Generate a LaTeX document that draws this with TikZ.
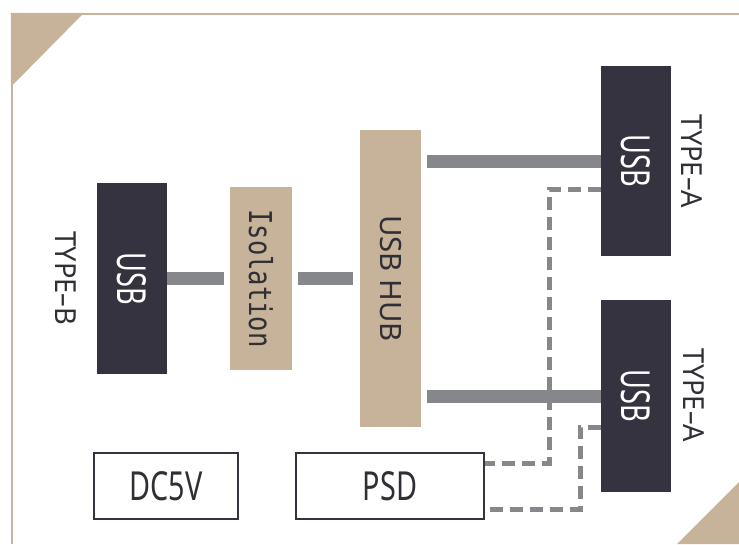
\documentclass[tikz,border=0pt]{standalone}
\usepackage{fontspec}
\setmainfont{Noto Sans}
\newfontfamily\monofam{DejaVu Sans Mono}
\usepackage{graphicx}
\definecolor{darkc}{HTML}{35333F}
\definecolor{tanc}{HTML}{C6B39A}
\definecolor{barc}{HTML}{86878B}
\definecolor{txtc}{HTML}{2F2F35}
\newcommand\vtext[2]{\rotatebox{-90}{\scalebox{#1}[1]{#2}}}
\begin{document}
\begin{tikzpicture}[x=1pt,y=-1pt,
  darkbox/.style={fill=darkc,draw=none,inner sep=0pt,minimum width=70pt,text=white,font=\fontsize{40}{40}\selectfont},
  tanbox/.style={fill=tanc,draw=none,inner sep=0pt,text=txtc},
  wbox/.style={fill=white,draw=darkc,line width=2pt,inner sep=0pt,minimum height=66pt,text=txtc,font=\fontsize{40}{40}\selectfont},
  sidetxt/.style={inner sep=0pt,text=txtc,font=\fontsize{29}{29}\selectfont},
  bar/.style={draw=barc,line width=13pt},
  dashline/.style={draw=barc,line width=5pt,dash pattern=on 13pt off 7pt}]
\useasboundingbox (0,0) rectangle (739,544);
% frame
\draw[tanc,line width=2.5pt] (12,544) -- (12,14) -- (739,14);
\fill[tanc] (10.75,12.75) -- (84,12.75) -- (10.75,87) -- cycle;
\fill[tanc] (677,544) -- (739,482) -- (739,544) -- cycle;
% boxes
\node[darkbox,minimum height=191pt] (usbB) at (132,278.5) {\vtext{0.68}{USB}};
\node[tanbox,minimum width=62pt,minimum height=183pt,font=\monofam\fontsize{31.5}{31.5}\selectfont] (iso) at (261,278.5) {\vtext{0.81}{Isolation}};
\node[tanbox,minimum width=61pt,minimum height=297pt,font=\fontsize{29.4}{29.4}\selectfont] (hub) at (390.5,278.5) {\vtext{1.0}{USB HUB}};
\node[darkbox,minimum height=190pt] (usbA1) at (636,161) {\vtext{0.68}{USB}};
\node[darkbox,minimum height=192pt] (usbA2) at (636,396) {\vtext{0.68}{USB}};
\node[wbox,minimum width=144pt] (dc) at (166,486) {\scalebox{0.72}[1]{DC5V}};
\node[wbox,minimum width=188pt] (psd) at (390,486) {\scalebox{0.72}[1]{PSD}};
% side labels
\node[sidetxt] (tb) at (66,278.5) {\vtext{0.94}{TYPE\textendash B}};
\node[sidetxt] (ta1) at (692,161.5) {\vtext{0.94}{TYPE\textendash A}};
\node[sidetxt] (ta2) at (694,395.5) {\vtext{0.94}{TYPE\textendash A}};
% dashed power lines
\coordinate (d1) at (549,463);
\coordinate (d2) at (580,509);
\draw[dashline] ([yshift=-28pt]usbA1.west) -| (d1) -- (d1 -| psd.east);
\draw[dashline] ([yshift=-31pt]usbA2.west) -| (d2) -- (d2 -| psd.east);
% solid connectors
\draw[bar,shorten >=6pt] (usbB.east) -- (iso.west);
\draw[bar,shorten <=6pt,shorten >=7pt] (iso.east) -- (hub.west);
\draw[bar,shorten <=6pt] (hub.east |- usbA1) -- (usbA1.west);
\draw[bar,shorten <=6pt] (hub.east |- usbA2) -- (usbA2.west);
\end{tikzpicture}
\end{document}
